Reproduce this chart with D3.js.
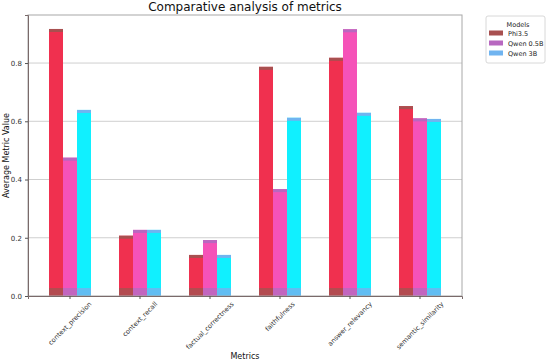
<!DOCTYPE html>
<html>
<head>
<meta charset="utf-8">
<script src="https://cdn.jsdelivr.net/npm/d3@7"></script>
<style>
  body { margin: 0; background: #fff; }
  text { font-family: "DejaVu Sans", sans-serif; }
</style>
</head>
<body>
<svg></svg>
<script>
let metrics = ["context_precision", "context_recall", "factual_correctness", "faithfulness", "answer_relevancy", "semantic_similarity"];
let models = ["Phi3.5", "Qwen 0.5B", "Qwen 3B"];
let phi = [0.917, 0.207, 0.141, 0.787, 0.818, 0.652];
let qwenSmall = [0.475, 0.227, 0.192, 0.367, 0.916, 0.61];
let qwenBig = [0.639, 0.227, 0.141, 0.612, 0.629, 0.608];
let yTicks = [0.0, 0.2, 0.4, 0.6, 0.8];

let width = 550;
let height = 363;
let margin = { top: 15, right: 88, bottom: 67, left: 28 };

// legend colours and the colours the bars show on top of them
let baseColor = { "Phi3.5": "#a85050", "Qwen 0.5B": "#b868c0", "Qwen 3B": "#70b4f0" };
let fillColor = { "Phi3.5": "#f0304f", "Qwen 0.5B": "#f552b8", "Qwen 3B": "#10f0ff" };

let series = [phi, qwenSmall, qwenBig];
let rows = [];
metrics.forEach((m, i) => {
  models.forEach((mod, j) => {
    rows.push({ metric: m, model: mod, value: series[j][i] });
  });
});

let svg = d3.select("svg").attr("width", width).attr("height", height);

let x = d3
  .scaleBand()
  .domain(metrics)
  .range([margin.left, width - margin.right])
  .paddingInner(0.4)
  .paddingOuter(0.3);

let xSub = d3.scaleBand().domain(models).range([0, x.bandwidth()]);

let y = d3
  .scaleLinear()
  .domain([0, 0.965])
  .range([height - margin.bottom, margin.top]);

// grid
svg
  .append("g")
  .selectAll("line")
  .data(yTicks.slice(1))
  .join("line")
  .attr("x1", margin.left)
  .attr("x2", width - margin.right)
  .attr("y1", (d) => y(d))
  .attr("y2", (d) => y(d))
  .style("stroke", "#cfcfcf")
  .style("stroke-width", 1);

let groups = svg
  .append("g")
  .selectAll(".bar")
  .data(rows)
  .join("g")
  .attr("class", "bar")
  .attr("transform", (d) => `translate(${x(d.metric) + xSub(d.model)},0)`);

groups
  .append("rect")
  .attr("y", (d) => y(d.value))
  .attr("width", xSub.bandwidth())
  .attr("height", (d) => y(0) - y(d.value))
  .style("fill", (d) => fillColor[d.model]);

// darker cap and foot where the original colour shows
groups
  .append("rect")
  .attr("y", (d) => y(d.value))
  .attr("width", xSub.bandwidth())
  .attr("height", 3)
  .style("fill", (d) => baseColor[d.model]);

groups
  .append("rect")
  .attr("y", y(0) - 8)
  .attr("width", xSub.bandwidth())
  .attr("height", 8)
  .style("fill", (d) => baseColor[d.model])
  .style("opacity", 0.85);

// frame
svg
  .append("rect")
  .attr("x", margin.left)
  .attr("y", margin.top)
  .attr("width", width - margin.left - margin.right)
  .attr("height", height - margin.top - margin.bottom)
  .style("fill", "none")
  .style("stroke", "#a8a8a8")
  .style("stroke-width", 1);

let yAxis = svg
  .append("g")
  .attr("transform", `translate(${margin.left},0)`)
  .call(d3.axisLeft(y).tickValues(yTicks).tickFormat(d3.format(".1f")).tickSize(3));
yAxis.select(".domain").style("stroke", "#7a6a6a");
yAxis.selectAll("text").style("font-size", "7px").style("fill", "#333");
yAxis.selectAll("line").style("stroke", "#555");

let xAxis = svg
  .append("g")
  .attr("transform", `translate(0,${height - margin.bottom})`)
  .call(d3.axisBottom(x).tickSize(3));
xAxis.select(".domain").style("stroke", "#7a6a6a");
xAxis.selectAll("line").style("stroke", "#555");

// rotated labels centred under each tick
xAxis
  .selectAll("text")
  .style("font-size", "6.6px")
  .style("fill", "#333")
  .style("text-anchor", "middle")
  .attr("dy", "0.32em")
  .attr("y", 0)
  .attr("transform", function () {
    let len = this.getComputedTextLength();
    let half = (len * Math.SQRT1_2) / 2 + 2;
    return `translate(0,${5 + half}) rotate(-45)`;
  });

svg
  .append("text")
  .attr("x", (margin.left + width - margin.right) / 2)
  .attr("y", 11)
  .attr("text-anchor", "middle")
  .style("font-size", "12px")
  .style("fill", "#111")
  .text("Comparative analysis of metrics");

svg
  .append("text")
  .attr("x", 245)
  .attr("y", 359)
  .attr("text-anchor", "middle")
  .style("font-size", "8px")
  .style("fill", "#111")
  .text("Metrics");

svg
  .append("text")
  .attr("transform", `translate(9,${(margin.top + height - margin.bottom) / 2}) rotate(-90)`)
  .attr("text-anchor", "middle")
  .style("font-size", "8px")
  .style("fill", "#111")
  .text("Average Metric Value");

// legend
let legend = svg.append("g").attr("transform", "translate(486,16)");
legend
  .append("rect")
  .attr("width", 59)
  .attr("height", 47)
  .attr("rx", 2)
  .style("fill", "#fff")
  .style("stroke", "#d8d8d8");
legend
  .append("text")
  .attr("x", 32)
  .attr("y", 11)
  .attr("text-anchor", "middle")
  .style("font-size", "6.5px")
  .style("fill", "#222")
  .text("Models");

let yPlacement = 0;
for (let m of models) {
  legend
    .append("rect")
    .attr("x", 3)
    .attr("y", 14.5 + yPlacement)
    .attr("width", 14)
    .attr("height", 5)
    .style("fill", baseColor[m]);
  legend
    .append("text")
    .attr("x", 22)
    .attr("y", 19.5 + yPlacement)
    .style("font-size", "6.5px")
    .style("fill", "#222")
    .text(m);
  yPlacement += 10;
}
</script>
</body>
</html>
